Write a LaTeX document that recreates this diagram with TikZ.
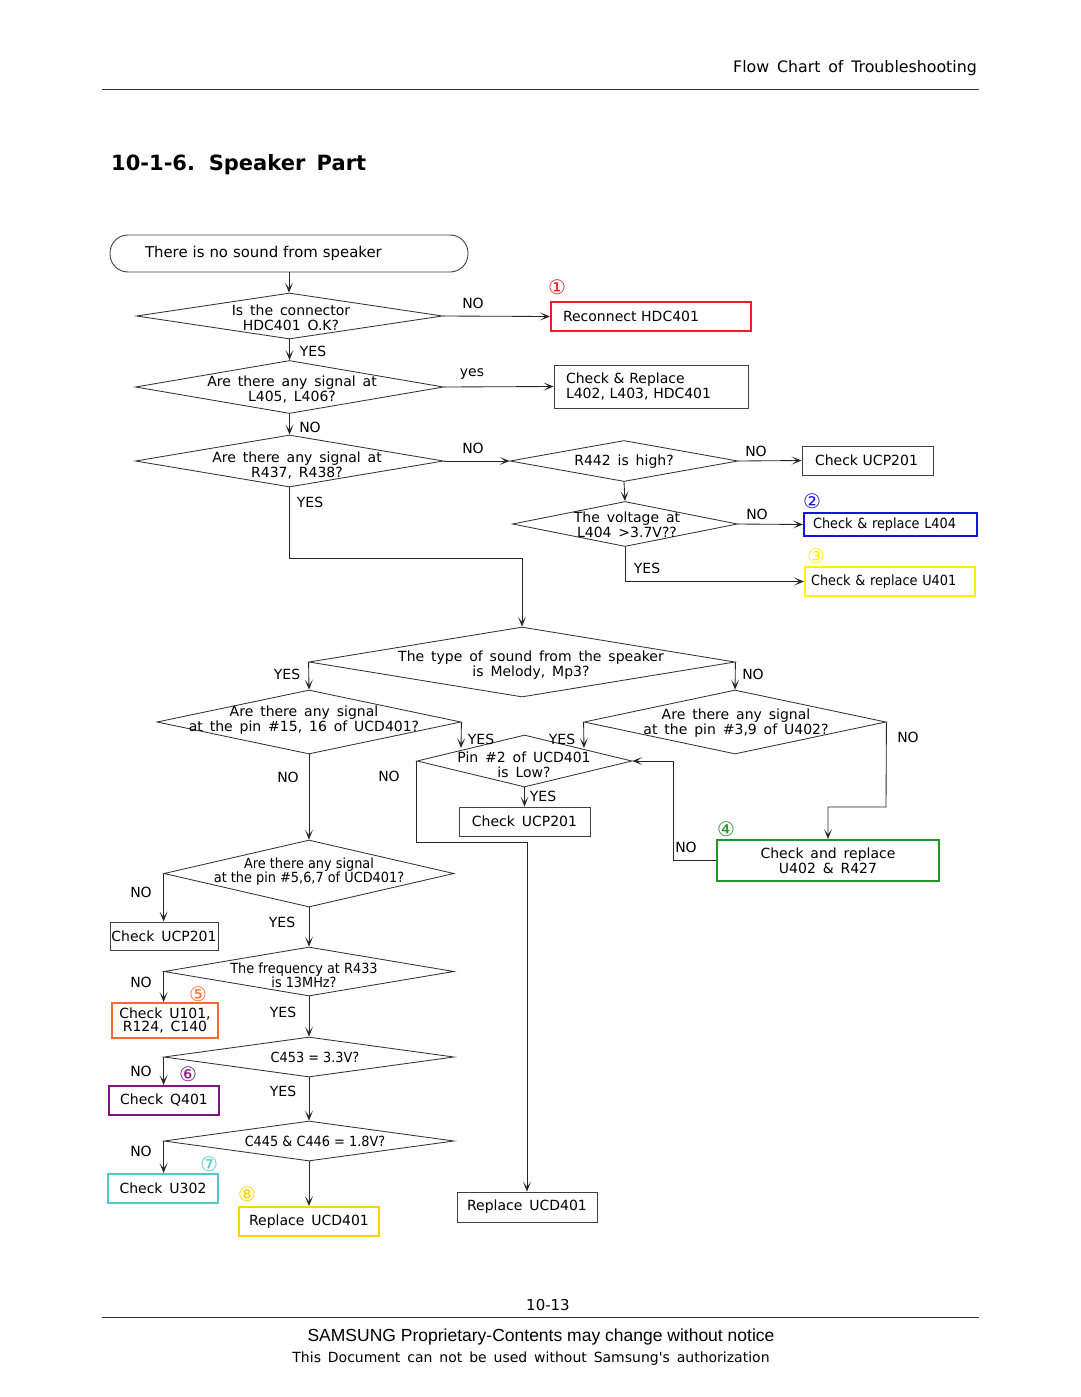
\documentclass[tikz,border=0pt]{standalone}
\usepackage{fontspec}
\setmainfont[WordSpace=1.55]{DejaVu Sans}
\newfontfamily\cond[FakeStretch=0.92]{DejaVu Sans}
\newfontfamily\arialf{Liberation Sans}
\usetikzlibrary{shapes.geometric,arrows.meta,calc}
\definecolor{cred}{RGB}{235,30,35}
\definecolor{cblue}{RGB}{20,20,230}
\definecolor{cyel}{RGB}{255,240,0}
\definecolor{cgold}{RGB}{255,210,0}
\definecolor{cgreen}{RGB}{30,150,40}
\definecolor{corange}{RGB}{255,105,45}
\definecolor{cpurple}{RGB}{128,20,128}
\definecolor{ccyan}{RGB}{80,200,205}
\begin{document}
\begin{tikzpicture}[x=1pt,y=-1pt,
  dia/.style={draw=black!80, line width=0.85pt, shape=diamond, inner sep=0pt},
  dt/.style={align=center, inner sep=0pt, font=\fontsize{14}{15}\selectfont},
  ct/.style={align=center, inner sep=0pt, font=\cond\fontsize{14}{14}\selectfont},
  box/.style={draw=black!75, line width=0.9pt, inner sep=0pt, align=center, font=\fontsize{14}{15}\selectfont},
  cbox/.style={box, line width=2pt},
  lbl/.style={inner sep=0pt, font=\fontsize{14}{15}\selectfont},
  circ/.style={inner sep=0pt, font=\fontsize{20}{20}\selectfont},
  arr/.style={line width=0.85pt, black!85, -{Stealth[length=10pt,width=8pt,inset=5.5pt]}}
]
\useasboundingbox (0,0) rectangle (1080,1397);

% header
\node[lbl, anchor=east, font=\fontsize{15.8}{16}\selectfont] (hdr) at (977,68) {Flow Chart of Troubleshooting};
\coordinate (hl1) at (102,89); \coordinate (hl2) at (979,89);
\draw[line width=0.8pt, black!80] (hl1) -- (hl2);
\node[lbl, anchor=west, font=\bfseries\fontsize{21}{21}\selectfont] (ttl) at (111,164.5) {10-1-6. Speaker Part};

% start
\node[box, rounded corners=18pt, minimum height=37pt, text width=288pt, inner xsep=35pt, align=left, font=\fontsize{14.9}{15}\selectfont] (s) at (289,253.5) {There is no sound from speaker};

% D1
\node[dia, minimum width=306pt, minimum height=46pt] (d1) at (289.5,316) {};
\node[dt] (d1t) at (291,317.5) {Is the connector\\HDC401 O.K?};
\node[cbox, draw=cred, minimum height=29pt, text width=176pt, inner xsep=12pt, align=left] (b1) at (651,316.5) {Reconnect HDC401};
\node[circ, text=cred] (n1) at (557,287) {①};

% D2
\node[dia, minimum width=308pt, minimum height=53pt] (d2) at (289.5,387) {};
\node[dt] (d2t) at (292,389.5) {Are there any signal at\\L405, L406?};
\node[box, minimum height=43pt, text width=170pt, inner xsep=12pt, align=left] (b2) at (651,386.5) {Check \& Replace\\L402, L403, HDC401};

% D3
\node[dia, minimum width=308pt, minimum height=52pt] (d3) at (289.5,461) {};
\node[dt] (d3t) at (297,465) {Are there any signal at\\R437, R438?};

% R442
\node[dia, minimum width=228pt, minimum height=41pt] (r4) at (624,461) {};
\node[dt] (r4t) at (624,462) {R442 is high?};
\node[box, minimum height=29pt, text width=105pt, inner xsep=13pt, align=left] (cu2) at (867.5,460.5) {Check UCP201};

% voltage
\node[dia, minimum width=225pt, minimum height=45pt] (dv) at (625,524) {};
\node[dt] (dvt) at (627,524.5) {The voltage at\\L404 >3.7V??};
\node[cbox, draw=cblue, minimum height=23pt, text width=155pt, inner xsep=9pt, align=left, font=\cond\fontsize{14}{15}\selectfont] (b4) at (890.5,524.5) {Check \& replace L404};
\node[circ, text=cblue] (n2) at (812,501) {②};
\node[cbox, draw=cyel, minimum height=29pt, text width=158pt, inner xsep=6pt, align=left, font=\cond\fontsize{14}{15}\selectfont] (b5) at (890,581.5) {Check \& replace U401};
\node[circ, text=cyel] (n3) at (816,556) {③};

% D4
\node[dia, minimum width=426pt, minimum height=70pt] (d4) at (522,662) {};
\node[dt] (d4t) at (531,665.5) {The type of sound from the speaker\\is Melody, Mp3?};

% D5, D6
\node[dia, minimum width=304pt, minimum height=64pt] (d5) at (309,722) {};
\node[dt] (d5t) at (304,720.5) {Are there any signal\\at the pin \#15, 16 of UCD401?};
\node[dia, minimum width=302pt, minimum height=64pt] (d6) at (735,722) {};
\node[dt] (d6t) at (736,723) {Are there any signal\\at the pin \#3,9 of U402?};

% D7
\node[dia, minimum width=215pt, minimum height=52pt] (d7) at (524.5,761) {};
\node[dt] (d7t) at (524,765) {Pin \#2 of UCD401\\is Low?};
\node[box, minimum width=131pt, minimum height=29pt] (cu3) at (524.5,821.5) {Check UCP201};

% green
\node[cbox, draw=cgreen, minimum width=222pt, minimum height=41pt] (g) at (828,860.5) {Check and replace\\U402 \& R427};
\node[circ, text=cgreen] (n4) at (726,829) {④};

% D8
\node[dia, minimum width=290pt, minimum height=67pt] (d8) at (309,873.5) {};
\node[ct] (d8t) at (309,872) {Are there any signal\\at the pin \#5,6,7 of UCD401?};
\node[box, minimum width=108pt, minimum height=28pt] (cu4) at (164,936) {Check UCP201};

% D9
\node[dia, minimum width=290pt, minimum height=49pt] (d9) at (309,971.5) {};
\node[ct] (d9t) at (304,975) {The frequency at R433\\is 13MHz?};
\node[cbox, draw=corange, minimum width=106pt, minimum height=35pt, font=\fontsize{14}{12}\selectfont] (o) at (165,1020.5) {Check U101,\\R124, C140};
\node[circ, text=corange] (n5) at (198,994) {⑤};

% D10
\node[dia, minimum width=290pt, minimum height=40pt] (d10) at (309,1057) {};
\node[ct] (d10t) at (315,1057) {C453 = 3.3V?};
\node[cbox, draw=cpurple, minimum width=110pt, minimum height=29pt] (q) at (164,1100.5) {Check Q401};
\node[circ, text=cpurple] (n6) at (188,1074) {⑥};

% D11
\node[dia, minimum width=290pt, minimum height=40pt] (d11) at (309,1141) {};
\node[ct] (d11t) at (315,1141) {C445 \& C446 = 1.8V?};
\node[cbox, draw=ccyan, minimum width=110pt, minimum height=29pt] (u3) at (163,1188.5) {Check U302};
\node[circ, text=ccyan] (n7) at (209,1164) {⑦};
\node[cbox, draw=cgold, minimum width=140pt, minimum height=29pt] (r1) at (309,1221.5) {Replace UCD401};
\node[circ, text=cgold] (n8) at (247,1194) {⑧};

\node[box, minimum width=140pt, minimum height=30pt] (r2) at (527,1207) {Replace UCD401};

% helper coordinates
\coordinate (j1) at (522,558);
\coordinate (e5) at (461,748);
\coordinate (e6) at (584,748);
\coordinate (j2) at (886,807);
\coordinate (j3) at ($(g.west)+(-43,0)$);
\coordinate (j4) at (527,842);

% connectors
\draw[arr] (s.south) -- (s.south |- d1.north);
\draw[arr] (d1.east) -- (b1.west);
\draw[arr] (d1.south) -- (d2.north);
\draw[arr] (d2.east) -- (b2.west);
\draw[arr] (d2.south) -- (d3.north);
\draw[arr] (d3.east) -- (r4.west);
\draw[arr] (r4.east) -- (cu2.west);
\draw[arr] (r4.south) -- (dv.north);
\draw[arr] (dv.east) -- (b4.west);
\draw[arr] (dv.south) |- (b5.west);
\draw[arr] (d3.south) |- (j1) -- (d4.north);
\draw[arr] (d4.west) -- (d5.north);
\draw[arr] (d4.east) -- (d6.north);
\draw[arr] (d5.east) -- (e5);
\draw[arr] (d6.west) -- (e6);
\draw[arr] (d6.east) -- (j2) -| (g.north);
\draw[arr] (g.west) -- (j3) |- (d7.east);
\draw[arr] (d7.south) -- (cu3.north);
\draw[arr] (d7.west) |- (j4) -- (r2.north);
\draw[arr] (d5.south) -- (d8.north);
\draw[arr] (d8.west) -- (d8.west |- cu4.north);
\draw[arr] (d8.south) -- (d9.north);
\draw[arr] (d9.west) -- (d9.west |- o.north);
\draw[arr] (d9.south) -- (d10.north);
\draw[arr] (d10.west) -- (d10.west |- q.north);
\draw[arr] (d10.south) -- (d11.north);
\draw[arr] (d11.west) -- (d11.west |- u3.north);
\draw[arr] (d11.south) -- (r1.north);

% labels
\node[lbl] (l1) at (473,303) {NO};
\node[lbl] (l2) at (313,351) {YES};
\node[lbl] (l3) at (472,374) {yes};
\node[lbl] (l4) at (310,427) {NO};
\node[lbl] (l5) at (473,448) {NO};
\node[lbl] (l6) at (310,502) {YES};
\node[lbl] (l7) at (756,451) {NO};
\node[lbl] (l8) at (757,514) {NO};
\node[lbl] (l9) at (647,568) {YES};
\node[lbl] (l10) at (287,674) {YES};
\node[lbl] (l11) at (753,674) {NO};
\node[lbl] (l12) at (481,739) {YES};
\node[lbl] (l13) at (562,739) {YES};
\node[lbl] (l14) at (908,737) {NO};
\node[lbl] (l15) at (288,777) {NO};
\node[lbl] (l16) at (389,776) {NO};
\node[lbl] (l17) at (543,796) {YES};
\node[lbl] (l18) at (686,847) {NO};
\node[lbl] (l19) at (141,892) {NO};
\node[lbl] (l20) at (282,922) {YES};
\node[lbl] (l21) at (141,982) {NO};
\node[lbl] (l22) at (283,1012) {YES};
\node[lbl] (l23) at (141,1071) {NO};
\node[lbl] (l24) at (283,1091) {YES};
\node[lbl] (l25) at (141,1151) {NO};

% footer
\node[lbl, font=\fontsize{15}{15}\selectfont] (pg) at (548,1305) {10-13};
\coordinate (fl1) at (102,1317); \coordinate (fl2) at (979,1317);
\draw[line width=0.8pt, black!80] (fl1) -- (fl2);
\node[lbl, font=\arialf\fontsize{17.5}{18}\selectfont] (f1) at (541,1337) {SAMSUNG Proprietary-Contents may change without notice};
\node[lbl, font=\fontsize{14}{14}\selectfont] (f2) at (531,1359) {This Document can not be used without Samsung\textquotesingle s authorization};
\end{tikzpicture}
\end{document}
